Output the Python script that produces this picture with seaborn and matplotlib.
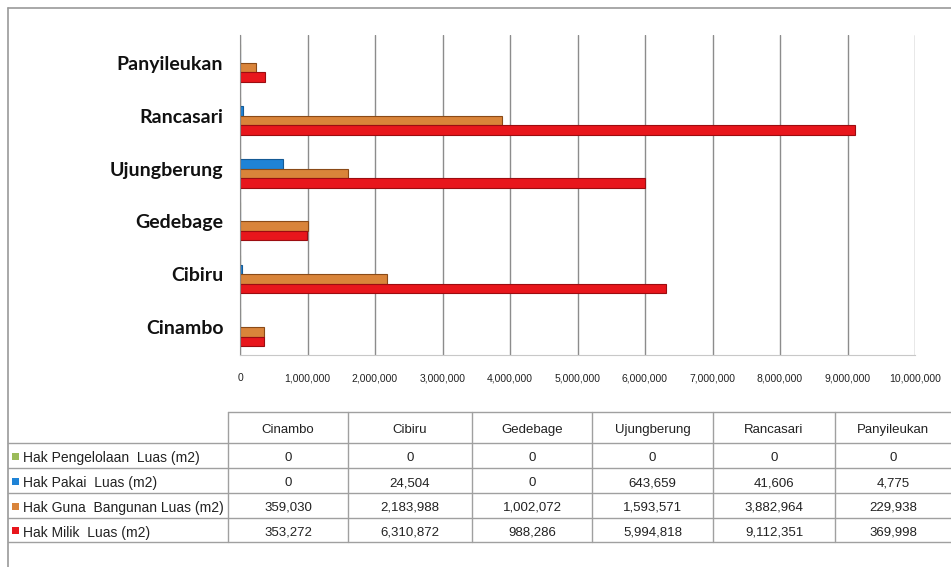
import numpy as np
import pandas as pd
import matplotlib
matplotlib.use("Agg")
import matplotlib.pyplot as plt
import seaborn as sns

# ---- data ----
kecamatan = ["Cinambo", "Cibiru", "Gedebage", "Ujungberung", "Rancasari", "Panyileukan"]
series = ["Hak Pengelolaan  Luas (m2)", "Hak Pakai  Luas (m2)",
          "Hak Guna  Bangunan Luas (m2)", "Hak Milik  Luas (m2)"]
hak_pengelolaan = [0, 0, 0, 0, 0, 0]
hak_pakai = [0, 24504, 0, 643659, 41606, 4775]
hak_guna_bangunan = [359030, 2183988, 1002072, 1593571, 3882964, 229938]
hak_milik = [353272, 6310872, 988286, 5994818, 9112351, 369998]
x_ticks = [0, 1000000, 2000000, 3000000, 4000000, 5000000,
           6000000, 7000000, 8000000, 9000000, 10000000]

colors = ["#9bbb59", "#1f83d6", "#d9843a", "#e8161c"]
edges = ["#6f8a3c", "#155a94", "#8a4a17", "#9c0c10"]

values = [hak_pengelolaan, hak_pakai, hak_guna_bangunan, hak_milik]
rows = []
for s, vals in zip(series, values):
    for k, v in zip(kecamatan, vals):
        rows.append({"Kecamatan": k, "Seri": s, "Luas": v})
df = pd.DataFrame(rows)

order = kecamatan[::-1]  # top to bottom

sns.set_style("white")
fig = plt.figure(figsize=(9.51, 5.67), dpi=100)
W, H = 951, 567

# background axes in pixel coords for borders and table
bg = fig.add_axes([0, 0, 1, 1], zorder=0)
bg.set_xlim(0, W)
bg.set_ylim(H, 0)
bg.axis("off")

ax = fig.add_axes([240 / W, 1 - 355 / H, (915 - 240) / W, (355 - 35) / H], zorder=1)
ax.patch.set_alpha(0)
sns.barplot(data=df, y="Kecamatan", x="Luas", hue="Seri", order=order,
            hue_order=series, palette=colors, orient="h", width=0.72,
            ax=ax, legend=False, linewidth=0.8, saturation=1)
for cont, ec in zip(ax.containers, edges):
    for p in cont.patches:
        p.set_edgecolor(ec)

ax.set_xlim(0, 10000000)
ax.set_ylim(5.53, -0.53)
ax.set_xticks(x_ticks)
ax.set_xticklabels([f"{t:,}" for t in x_ticks],
                   fontsize=7.5, family=["Liberation Sans Narrow", "Liberation Sans"],
                   color="#222222")
ax.tick_params(axis="x", length=0, pad=13)
ax.tick_params(axis="y", length=0, pad=12)
for lab in ax.get_yticklabels():
    lab.set_fontsize(14)
    lab.set_fontweight("bold")
    lab.set_family(["Lato", "DejaVu Sans"])
    lab.set_color("#111111")
ax.set_xlabel("")
ax.set_ylabel("")
ax.grid(axis="x", color="#8c8c8c", linewidth=1.0)
ax.set_axisbelow(True)
for side in ["top", "right"]:
    ax.spines[side].set_visible(False)
ax.spines["left"].set_color("#8c8c8c")
ax.spines["bottom"].set_color("#c8c8c8")

# outer border
bc = "#9a9a9a"
bg.plot([8, 8], [8, H], color=bc, lw=1.2)
bg.plot([8, W], [8, 8], color=bc, lw=1.2)

# table
col_x = [228, 348, 472, 592, 713, 835, 951]
row_y = [412, 443, 468, 493, 518, 542]
lc = "#a0a0a0"
bg.plot([228, W], [row_y[0], row_y[0]], color=lc, lw=1)
for y in row_y[1:]:
    bg.plot([8, W], [y, y], color=lc, lw=1)
for x in col_x[:-1]:
    bg.plot([x, x], [row_y[0], row_y[-1]], color=lc, lw=1)

tfam = ["Liberation Sans Narrow", "Liberation Sans"]
for i, k in enumerate(kecamatan):
    cx = (col_x[i] + col_x[i + 1]) / 2
    bg.text(cx, (row_y[0] + row_y[1]) / 2 + 1, k, ha="center", va="center_baseline",
            fontsize=9.5, family=tfam, color="#222222")

table_rows = list(zip(series, values, colors))
for r, (name, vals, c) in enumerate(table_rows):
    yc = (row_y[r + 1] + row_y[r + 2]) / 2 + 1
    bg.add_patch(plt.Rectangle((12, yc - 4), 7, 7, facecolor=c, edgecolor="none"))
    bg.text(23, yc, name, ha="left", va="center_baseline", fontsize=10, family=tfam,
            color="#222222")
    for i, v in enumerate(vals):
        cx = (col_x[i] + col_x[i + 1]) / 2
        bg.text(cx, yc, f"{v:,}", ha="center", va="center_baseline", fontsize=9.5,
                family=tfam, color="#222222")

fig.savefig("out.png", dpi=100)
